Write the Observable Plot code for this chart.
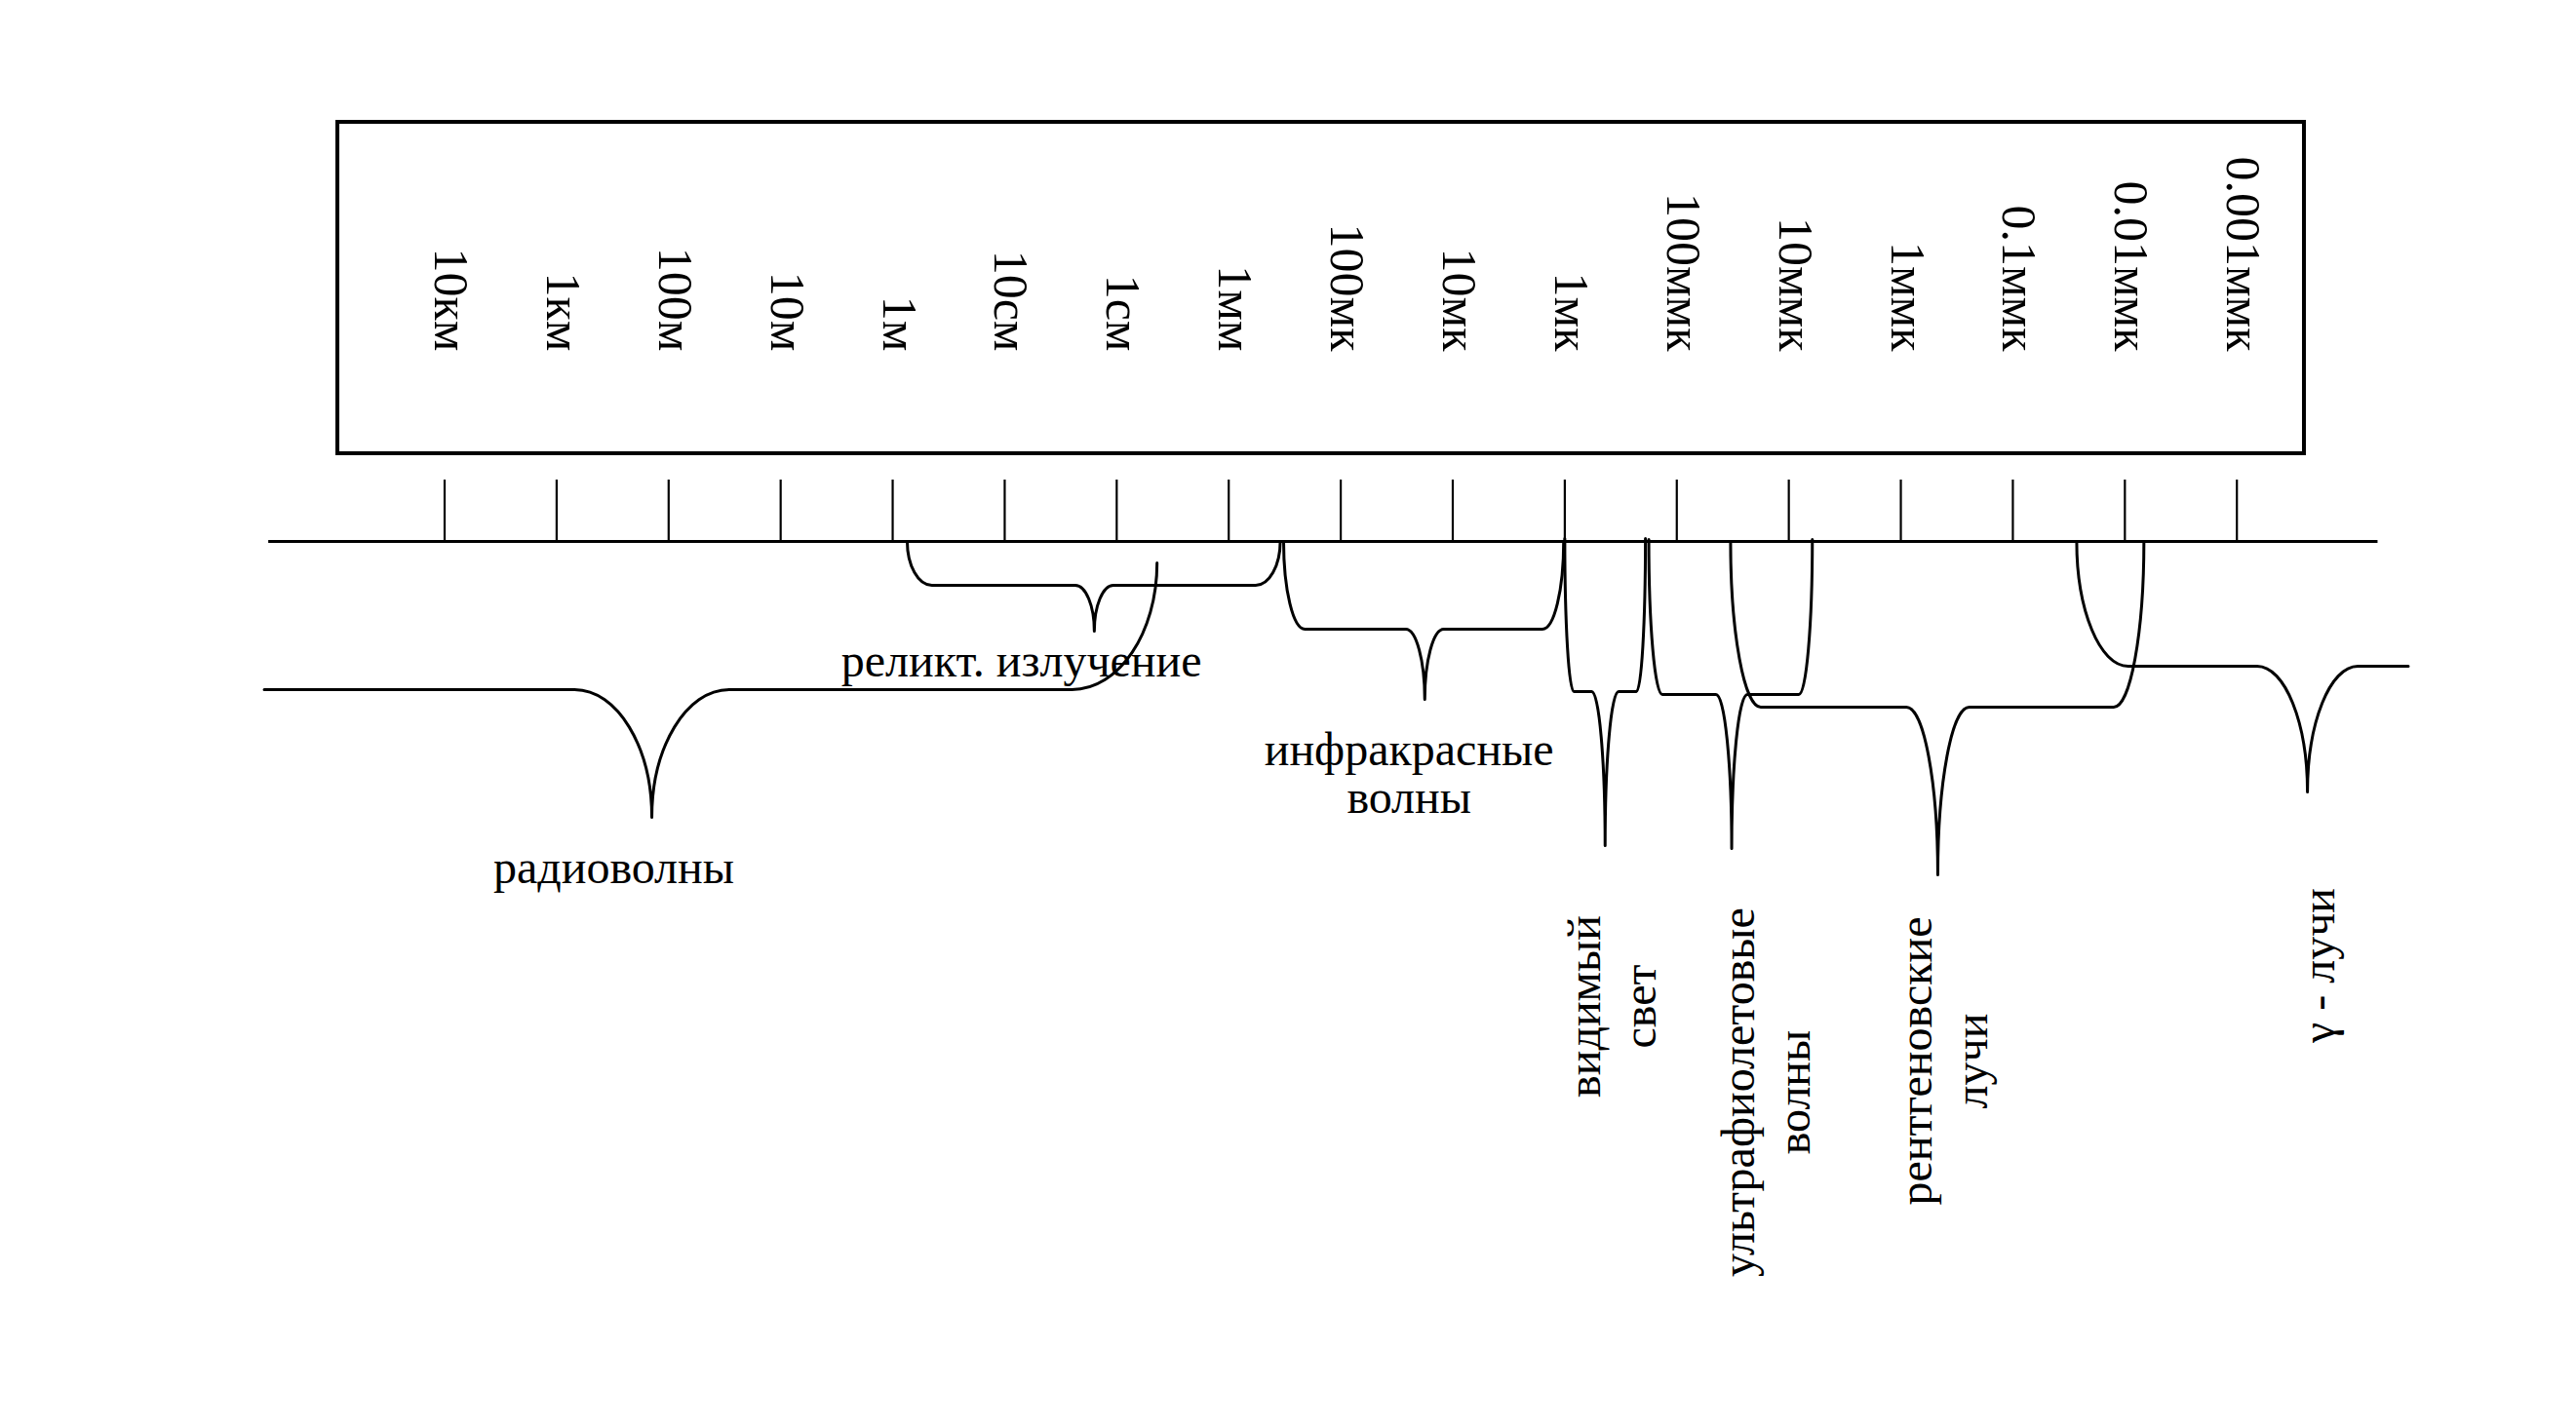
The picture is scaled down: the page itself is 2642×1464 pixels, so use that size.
<!DOCTYPE html>
<html>
<head>
<meta charset="utf-8">
<script src="https://cdn.jsdelivr.net/npm/d3@7"></script>
<script src="https://cdn.jsdelivr.net/npm/@observablehq/plot@0.6"></script>
<style>
  html, body { margin: 0; padding: 0; background: #fff; }
  svg { display: block; }
</style>
</head>
<body>
<div id="chart"></div>
<script>
// ---- DATA ----
// scale ticks: log10 of the wavelength in metres, with their labels
const tickLog = [4, 3, 2, 1, 0, -1, -2, -3, -4, -5, -6, -7, -8, -9, -10, -11, -12];
const tickLabels = ["10км", "1км", "100м", "10м", "1м", "10см", "1см", "1мм", "100мк", "10мк", "1мк",
                    "100ммк", "10ммк", "1ммк", "0.1ммк", "0.01ммк", "0.001ммк"];

// bands (log10 of wavelength in metres); null = open-ended brace
const bandNames = ["радиоволны", "реликт. излучение", "инфракрасные\nволны", "видимый\nсвет",
                   "ультрафиолетовые\nволны", "рентгеновские\nлучи", "γ - лучи"];
const bandFrom = [null, -0.13, -3.49, -6.00, -6.75, -7.48, -10.57];
const bandTo   = [-2.36, -3.46, -5.99, -6.72, -8.21, -11.17, null];
const bandTip  = [2.15, -1.80, -4.75, -6.36, -7.49, -9.33, -12.63];

// ---- LAYOUT (drawing only) ----
const axisY = 555, tickTop = 492;
const axisFrom = 5.57, axisTo = -13.26;
const boxFrom = 4.953, boxTo = -12.603, boxTop = 125, boxBottom = 465;
const openLeft = 5.61, openRight = -13.53;
const bandTop   = [577, 555, 555, 552, 553, 555, 555];
const bandLevel = [707, 600, 645, 709, 712, 725, 683];
const bandDepth = [838, 647, 717, 867, 870, 897, 812];
const bandCurl  = [0.76, 0.22, 0.19, 0.08, 0.12, 0.27, 0.46];
const bandCusp  = [0.69, 0.17, 0.17, 0.12, 0.14, 0.28, 0.45];
const labelX = [2.49, -1.15, -4.61, -6.405, -7.78, -9.365, -12.71];
const labelY = [890, 678, 793, 1032, 1120, 1088, 990];
const labelRotated = [false, false, false, true, true, true, true];

// brace outline points built from the band values
const bracePts = [];
bandNames.forEach((name, i) => {
  const pts = [];
  if (bandFrom[i] == null) pts.push([openLeft, bandLevel[i]]);
  else { pts.push([bandFrom[i], bandTop[i]]); pts.push([bandFrom[i] - bandCurl[i], bandLevel[i]]); }
  pts.push([bandTip[i] + bandCusp[i], bandLevel[i]]);
  pts.push([bandTip[i], bandDepth[i]]);
  pts.push([bandTip[i] - bandCusp[i], bandLevel[i]]);
  if (bandTo[i] == null) pts.push([openRight, bandLevel[i]]);
  else { pts.push([bandTo[i] + bandCurl[i], bandLevel[i]]); pts.push([bandTo[i], bandTop[i]]); }
  pts.forEach(([x, y]) => bracePts.push({band: name, x, y}));
});

// curly-brace curve: quarter-ellipse bends between horizontal runs and vertical ends
const K = 0.5523;
function braceCurve(context) {
  let pts = [];
  return {
    areaStart() {}, areaEnd() {},
    lineStart() { pts = []; },
    point(x, y) { pts.push([+x, +y]); },
    lineEnd() {
      const n = pts.length;
      if (!n) return;
      const flat = (i) => i >= 0 && i < n - 1 && Math.abs(pts[i + 1][1] - pts[i][1]) < 0.5;
      context.moveTo(pts[0][0], pts[0][1]);
      for (let i = 0; i < n - 1; i++) {
        const [x0, y0] = pts[i], [x1, y1] = pts[i + 1];
        const dx = x1 - x0, dy = y1 - y0;
        if (flat(i) || Math.abs(dx) < 0.5) { context.lineTo(x1, y1); continue; }
        if (flat(i - 1)) context.bezierCurveTo(x0 + K * dx, y0, x1, y1 - K * dy, x1, y1);
        else context.bezierCurveTo(x0, y0 + K * dy, x1 - K * dx, y1, x1, y1);
      }
    }
  };
}

const labels = bandNames.map((name, i) => ({name, x: labelX[i], y: labelY[i], rot: labelRotated[i]}));
const font = "Liberation Serif, Times New Roman, serif";

const chart = Plot.plot({
  width: 2642,
  height: 1464,
  margin: 0,
  x: {domain: [4, -12], range: [455.5, 2293.7], axis: null},
  y: {domain: [0, 1464], range: [0, 1464], axis: null},
  style: {background: "#fff", fontFamily: font, color: "#000"},
  marks: [
    Plot.rect([0], {x1: () => boxFrom, x2: () => boxTo, y1: () => boxTop, y2: () => boxBottom,
                    fill: "none", stroke: "#000", strokeWidth: 4}),
    Plot.text(tickLabels, {x: (d, i) => tickLog[i], y: () => 360, text: d => d, rotate: 90,
                           textAnchor: "end", fontSize: 50, fontFamily: font, fill: "#000", dx: 6}),
    Plot.ruleX(tickLog, {x: d => d, y1: () => tickTop, y2: () => axisY, stroke: "#000", strokeWidth: 2.2}),
    Plot.ruleY([axisY], {y: d => d, x1: () => axisFrom, x2: () => axisTo, stroke: "#000", strokeWidth: 3}),
    Plot.line(bracePts, {x: "x", y: "y", z: "band", curve: braceCurve, stroke: "#000", strokeWidth: 3}),
    Plot.text(labels.filter(d => !d.rot), {x: "x", y: "y", text: "name", fontSize: 48, lineHeight: 1.04,
                                           fontFamily: font, fill: "#000", textAnchor: "middle"}),
    Plot.text(labels.filter(d => d.rot), {x: "x", y: "y", text: "name", rotate: -90, fontSize: 48, lineHeight: 1.19,
                                          fontFamily: font, fill: "#000", textAnchor: "middle"})
  ]
});
document.getElementById("chart").append(chart);
</script>
</body>
</html>
